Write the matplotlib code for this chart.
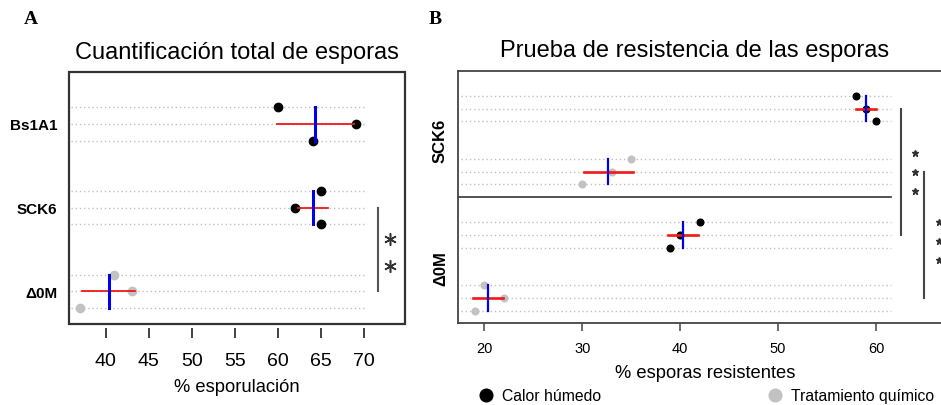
import numpy as np
import matplotlib
matplotlib.use('agg')
import matplotlib.pyplot as plt
from matplotlib.patches import Rectangle

plt.rcParams['font.family'] = ['Liberation Sans', 'DejaVu Sans']

# Panel A: % esporulacion, replicates listed top -> bottom
cepas_a = ['Δ0M', 'SCK6', 'Bs1A1']
esporulacion_a = [[41, 43, 37], [65, 62, 65], [60, 69, 64]]
colores_a = ['#c2c2c2', 'black', 'black']
ticks_a = [40, 45, 50, 55, 60, 65, 70]

# Panel B: % esporas resistentes, replicates listed top -> bottom
cepas_b = ['Δ0M', 'SCK6']
calor_b = [[42, 40, 39], [58, 59, 60]]
quimico_b = [[20, 22, 19], [35, 33, 30]]
ticks_b = [20, 30, 40, 50, 60]

W, H = 941, 406


def box(l, t, r, b):
    return [l / W, 1 - b / H, (r - l) / W, (b - t) / H]


def grupo(ax, centro, valores, color, ms, lw_red, lw_blue, label=None):
    ys = [centro + 1, centro, centro - 1]
    ax.plot(valores, ys, 'o', color=color, ms=ms, mec=color, zorder=3, label=label)
    m = np.mean(valores)
    sd = np.std(valores, ddof=1)
    ax.plot([m - sd, m + sd], [centro, centro], color='#f01818', lw=lw_red, zorder=4)
    ax.plot([m, m], [centro - 1, centro + 1], color='#0000ee', lw=lw_blue, zorder=5)


def punteadas(ax, centro, x0, x1):
    ax.hlines([centro + 1, centro, centro - 1], x0, x1, colors='#c0c0c0',
              linestyles=(0, (1, 2)), lw=1, zorder=1)


fig = plt.figure(figsize=(W / 100, H / 100), dpi=100)

# ---------------- A ----------------
ax = fig.add_axes(box(69, 73, 404.5, 325))
ax.set_xlim(35.74, 74.66)
ax.set_ylim(0.045, 15.09)
centros_a = [2, 7, 12]
for c, vals, col in zip(centros_a, esporulacion_a, colores_a):
    punteadas(ax, c, 36.0, 70.2)
    grupo(ax, c, vals, col, 6, 1.3, 2.2)

# significance
ax.plot([71.62, 71.62], [centros_a[0], centros_a[1]], color='#555555', lw=1.5)
ax.plot([72.98, 72.98], [5.1, 3.5], ls='', marker=(6, 2, 0), ms=9, mew=1.1, color='#333333')

for s in ax.spines.values():
    s.set_visible(False)
ax.spines['bottom'].set_position(('outward', 3))
ax.add_patch(Rectangle((0, 0), 1, 1, transform=ax.transAxes, fill=False,
                       lw=1.6, ec='#333333', clip_on=False, zorder=6))
ax.set_xticks(ticks_a)
ax.tick_params(axis='x', length=7.2, width=1.3, color='#333333', labelsize=14, pad=10)
ax.set_yticks(centros_a, cepas_a, fontweight='bold', fontsize=11)
ax.tick_params(axis='y', length=0, pad=8.6)
ax.set_title('Cuantificación total de esporas', fontsize=17, pad=10.4)
ax.set_xlabel('% esporulación', fontsize=13.2, va='center')
ax.xaxis.set_label_coords(0.5, -0.25)

# ---------------- B ----------------
bx = fig.add_axes(box(458.3, 71.7, 950, 324.3))
bx.set_xlim(17.34, 67.56)
bx.set_ylim(0, 20)
centros_calor = [7, 17]
centros_quim = [2, 12]
for i in range(2):
    punteadas(bx, centros_calor[i], 17.6, 61.5)
    punteadas(bx, centros_quim[i], 17.6, 61.5)
    grupo(bx, centros_calor[i], calor_b[i], 'black', 4.8, 1.9, 1.6,
          label='Calor húmedo' if i == 0 else None)
    grupo(bx, centros_quim[i], quimico_b[i], '#c2c2c2', 4.8, 1.9, 1.6,
          label='Tratamiento químico' if i == 0 else None)
bx.plot([17.34, 61.5], [10, 10], color='#333333', lw=1.2)

bx.plot([62.56, 62.56], [centros_calor[1], centros_calor[0]], color='#444444', lw=1.5)
bx.plot([63.99] * 3, [13.5, 12, 10.5], ls='', marker='*', ms=5, color='#333333')
bx.plot([64.94, 64.94], [centros_quim[1], centros_quim[0]], color='#444444', lw=1.5)
bx.plot([66.44] * 3, [8, 6.5, 5], ls='', marker='*', ms=5, color='#333333')

for s in bx.spines.values():
    s.set_linewidth(1.3)
    s.set_color('#444444')
bx.set_xticks(ticks_b)
bx.tick_params(axis='x', length=6, width=1.1, color='#444444', labelsize=10.5, pad=7)
bx.set_yticks([4.4, 14.5], cepas_b, fontweight='bold', fontsize=12,
              rotation=90, va='center')
bx.tick_params(axis='y', length=0, pad=7.5)
bx.set_title('Prueba de resistencia de las esporas', fontsize=17, pad=10.4,
             x=(695 - 458.3) / (950 - 458.3))
bx.set_xlabel('% esporas resistentes', fontsize=13.2, va='center')
bx.xaxis.set_label_coords((705.5 - 458.3) / (950 - 458.3), -0.193)

h, l = bx.get_legend_handles_labels()
fig.legend(h, l, loc='center left', bbox_to_anchor=(478 / W, 1 - 397 / H),
           ncol=2, frameon=False, fontsize=11.3, markerscale=1.9,
           handlelength=1.0, handletextpad=0.5, columnspacing=10.6,
           borderpad=0, borderaxespad=0)

fig.text(31 / W, 1 - 19.5 / H, 'A', family='Liberation Serif', fontweight='bold',
         fontsize=14, ha='center', va='center')
fig.text(435.5 / W, 1 - 20 / H, 'B', family='Liberation Serif', fontweight='bold',
         fontsize=14, ha='center', va='center')

fig.savefig('out.png', dpi=100)
